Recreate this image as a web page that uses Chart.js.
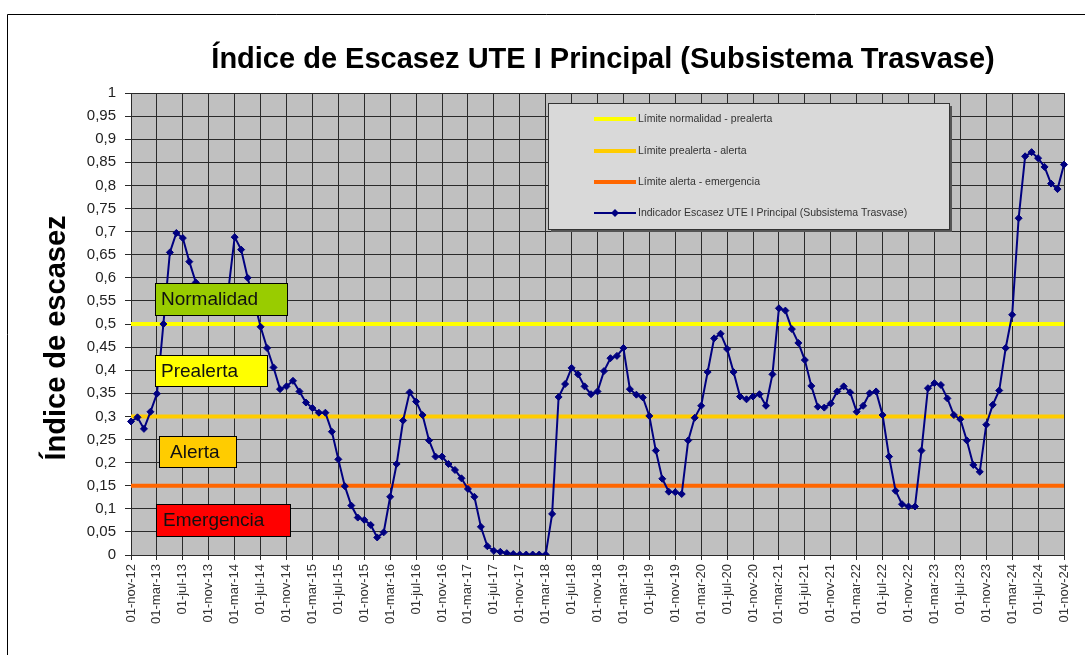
<!DOCTYPE html>
<html><head><meta charset="utf-8">
<script src="https://cdn.jsdelivr.net/npm/chart.js@4.4.1/dist/chart.umd.min.js"></script>
<style>html,body{margin:0;padding:0;background:#fff}#wrap{width:1085px;height:655px;position:relative}</style>
</head><body><div id="wrap"><canvas id="c" width="1085" height="655"></canvas></div>
<script>
const FONT = "'Liberation Sans', Arial, Helvetica, sans-serif";
const monthNames = ['ene','feb','mar','abr','may','jun','jul','ago','sep','oct','nov','dic'];
// categories: monthly from 01-nov-12 to 01-nov-24
const categories = [];
for (let i = 0; i < 145; i++) {
  const m = (10 + i) % 12, y = 12 + Math.floor((10 + i) / 12);
  categories.push('01-' + monthNames[m] + '-' + String(y).padStart(2, '0'));
}
const tickLabels = ['01-nov-12','01-mar-13','01-jul-13','01-nov-13','01-mar-14','01-jul-14','01-nov-14','01-mar-15','01-jul-15','01-nov-15','01-mar-16','01-jul-16','01-nov-16','01-mar-17','01-jul-17','01-nov-17','01-mar-18','01-jul-18','01-nov-18','01-mar-19','01-jul-19','01-nov-19','01-mar-20','01-jul-20','01-nov-20','01-mar-21','01-jul-21','01-nov-21','01-mar-22','01-jul-22','01-nov-22','01-mar-23','01-jul-23','01-nov-23','01-mar-24','01-jul-24','01-nov-24'];
const indicador = [
  0.289,0.298,0.273,0.310,0.349,0.500,0.655,0.697,0.686,0.635,0.590,0.570,
  0.560,0.550,0.560,0.570,0.688,0.661,0.600,0.550,0.494,0.448,0.406,0.359,
  0.365,0.377,0.354,0.330,0.318,0.308,0.308,0.267,0.207,0.149,0.107,0.081,
  0.076,0.065,0.038,0.049,0.126,0.197,0.291,0.352,0.332,0.303,0.248,0.213,
  0.213,0.197,0.184,0.166,0.143,0.126,0.061,0.019,0.009,0.007,0.004,0.002,
  0.001,0.001,0.001,0.001,0.001,0.089,0.342,0.370,0.405,0.391,0.365,0.348,
  0.354,0.398,0.426,0.431,0.448,0.359,0.347,0.341,0.301,0.226,0.165,0.137,
  0.136,0.132,0.248,0.297,0.323,0.396,0.469,0.479,0.446,0.396,0.343,0.337,
  0.343,0.348,0.323,0.391,0.534,0.529,0.489,0.459,0.422,0.366,0.321,0.319,
  0.328,0.354,0.365,0.352,0.310,0.323,0.350,0.354,0.303,0.213,0.139,0.110,
  0.105,0.105,0.226,0.361,0.372,0.368,0.339,0.303,0.294,0.248,0.195,0.180,
  0.282,0.325,0.356,0.448,0.520,0.729,0.863,0.872,0.859,0.840,0.804,0.792,
  0.845
];
const limites = [0.5, 0.3, 0.15];
const limiteNames = ['Límite normalidad - prealerta','Límite prealerta - alerta','Límite alerta - emergencia'];
const limiteColors = ['#FFFF00','#FFCC00','#FF6600'];
const serieName = 'Indicador Escasez UTE I Principal (Subsistema Trasvase)';
const zoneNames = ['Normalidad','Prealerta','Alerta','Emergencia'];
const zoneColors = ['#99CC00','#FFFF00','#FFCC00','#FF0000'];

const datasets = limites.map((v, k) => ({
  label: limiteNames[k],
  data: [{x: categories[0], y: v}, {x: categories[categories.length - 1], y: v}],
  borderColor: limiteColors[k], backgroundColor: limiteColors[k],
  borderWidth: 4, pointRadius: 0, order: 1
}));
datasets.push({
  label: serieName, data: indicador,
  borderColor: '#000080', backgroundColor: '#000080',
  borderWidth: 2, pointStyle: 'rectRot', pointRadius: 3.5, pointBorderWidth: 1,
  order: 0
});

const decoPlugin = {
  id: 'deco',
  beforeDraw(chart) {
    const ctx = chart.ctx, a = chart.chartArea;
    ctx.save();
    ctx.fillStyle = '#fff'; ctx.fillRect(0, 0, chart.width, chart.height);
    ctx.strokeStyle = '#000'; ctx.lineWidth = 1;
    ctx.beginPath(); ctx.moveTo(7.5, chart.height); ctx.lineTo(7.5, 14.5); ctx.lineTo(chart.width, 14.5); ctx.stroke();
    ctx.fillStyle = '#C0C0C0'; ctx.fillRect(a.left, a.top, a.right - a.left, a.bottom - a.top);
    ctx.restore();
  },
  afterDatasetsDraw(chart) {
    const ctx = chart.ctx;
    ctx.save();
    // zone boxes
    const boxes = [
      {x:155, y:283, w:132, h:32, tx:161},
      {x:155, y:355, w:112, h:31, tx:161},
      {x:159, y:436, w:77,  h:31, tx:170},
      {x:156, y:504, w:134, h:32, tx:163}
    ];
    boxes.forEach((b, i) => {
      ctx.fillStyle = zoneColors[i];
      ctx.fillRect(b.x, b.y, b.w, b.h);
      ctx.strokeStyle = '#000'; ctx.lineWidth = 1;
      ctx.strokeRect(b.x + 0.5, b.y + 0.5, b.w, b.h);
      ctx.fillStyle = '#111'; ctx.font = '19px ' + FONT;
      ctx.textBaseline = 'middle'; ctx.textAlign = 'left';
      ctx.fillText(zoneNames[i], b.tx, b.y + b.h / 2 + 1);
    });
    // legend
    const L = {x:548, y:103, w:401, h:126};
    ctx.fillStyle = '#555'; ctx.fillRect(L.x + 3, L.y + 3, L.w, L.h);
    ctx.fillStyle = '#D9D9D9'; ctx.fillRect(L.x, L.y, L.w, L.h);
    ctx.strokeStyle = '#333'; ctx.lineWidth = 1; ctx.strokeRect(L.x + 0.5, L.y + 0.5, L.w, L.h);
    const rows = [119, 151, 182, 213];
    chart.data.datasets.forEach((ds, i) => {
      const yy = rows[i];
      ctx.strokeStyle = ds.borderColor; ctx.lineWidth = i < 3 ? 4 : 2;
      ctx.beginPath(); ctx.moveTo(594, yy); ctx.lineTo(636, yy); ctx.stroke();
      if (i === 3) {
        ctx.fillStyle = ds.borderColor;
        ctx.beginPath(); ctx.moveTo(615, yy - 4); ctx.lineTo(619, yy); ctx.lineTo(615, yy + 4); ctx.lineTo(611, yy); ctx.closePath(); ctx.fill();
      }
      ctx.fillStyle = '#333'; ctx.font = '10.5px ' + FONT; ctx.textBaseline = 'middle'; ctx.textAlign = 'left';
      ctx.fillText(ds.label, 638, yy);
    });
    ctx.restore();
  },
  afterDraw(chart) {
    const ctx = chart.ctx;
    ctx.save();
    ctx.fillStyle = '#000'; ctx.textAlign = 'center'; ctx.textBaseline = 'middle';
    ctx.font = 'bold 29px ' + FONT;
    ctx.fillText('Índice de Escasez UTE I Principal (Subsistema Trasvase)', 603, 60);
    ctx.translate(57, 338); ctx.rotate(-Math.PI / 2);
    ctx.font = 'bold 29px ' + FONT;
    ctx.fillText('Índice de escasez', 0, 0);
    ctx.restore();
  }
};

Chart.defaults.font.family = FONT;
new Chart(document.getElementById('c'), {
  type: 'line',
  data: { labels: categories, datasets },
  options: {
    responsive: false, animation: false, devicePixelRatio: 1,
    layout: { padding: { left: 0, top: 93, right: 21, bottom: 0 } },
    plugins: { legend: { display: false }, title: { display: false }, tooltip: { enabled: false } },
    scales: {
      x: {
        type: 'category', offset: false,
        grid: { color: c => (c.index % 4 === 0 ? '#2a2a2a' : 'rgba(0,0,0,0)'), lineWidth: 1, tickLength: 5 },
        border: { color: '#2a2a2a' },
        ticks: { autoSkip: false, maxRotation: 90, minRotation: 90, padding: 4, color: '#333', font: { size: 13 },
          callback: (v, i) => (i % 4 === 0 ? tickLabels[i / 4] : '') },
        afterFit: s => { s.height = 100; }
      },
      y: {
        min: 0, max: 1,
        ticks: { stepSize: 0.05, padding: 9, color: '#222', font: { size: 15 },
          callback: v => String(Math.round(v * 100) / 100).replace('.', ',') },
        grid: { color: '#2a2a2a', lineWidth: 1, tickLength: 6 },
        border: { color: '#2a2a2a' },
        afterFit: s => { s.width = 131; }
      }
    }
  },
  plugins: [decoPlugin]
});
</script></body></html>
